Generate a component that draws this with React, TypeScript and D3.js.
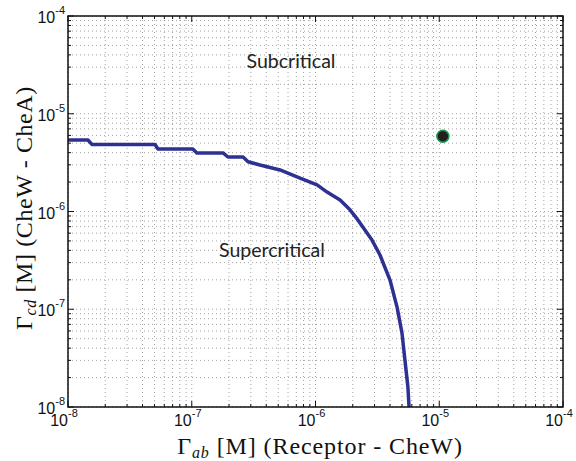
import React, { useEffect, useRef } from "react";
import * as d3 from "d3";

// Phase boundary (Gamma_ab, Gamma_cd)
const gammaAb = [
  1e-8, 1.45e-8, 1.56e-8, 5.05e-8, 5.33e-8, 1.02e-7, 1.1e-7, 1.79e-7, 1.96e-7,
  2.6e-7, 2.85e-7, 3.56e-7, 5.17e-7, 7.5e-7, 1.03e-6, 1.24e-6, 1.58e-6, 1.9e-6,
  2.2e-6, 2.86e-6, 3.32e-6, 4.0e-6, 4.56e-6, 5.0e-6, 5.28e-6, 5.58e-6, 5.7e-6,
];
const gammaCd = [
  5.39e-6, 5.39e-6, 4.85e-6, 4.85e-6, 4.36e-6, 4.36e-6, 3.97e-6, 3.97e-6, 3.61e-6,
  3.61e-6, 3.23e-6, 2.99e-6, 2.66e-6, 2.2e-6, 1.87e-6, 1.58e-6, 1.31e-6, 1.04e-6,
  8.2e-7, 5.1e-7, 3.59e-7, 1.99e-7, 1.05e-7, 5.7e-8, 3.03e-8, 1.6e-8, 1e-8,
];

// Operating point
const pointX = [1.07e-5];
const pointY = [5.9e-6];

const decadeExps = [-8, -7, -6, -5, -4];
const regionLabels = ["Subcritical", "Supercritical"];
const regionX = [6.34e-7, 4.45e-7];
const regionY = [2.94e-5, 3.42e-7];

export default function App() {
  const ref = useRef<SVGSVGElement>(null);

  useEffect(() => {
    const width = 576,
      height = 461;
    const left = 68,
      right = 563,
      top = 16,
      bottom = 407;

    const svg = d3.select(ref.current);
    svg.selectAll("*").remove();

    const x = d3.scaleLog().domain([1e-8, 1e-4]).range([left, right]);
    const y = d3.scaleLog().domain([1e-8, 1e-4]).range([bottom, top]);

    // all tick values, majors and minors
    const minor: number[] = [];
    for (let e = -8; e < -4; e++) {
      for (let m = 2; m <= 9; m++) minor.push(m * Math.pow(10, e));
    }
    const major = decadeExps.map((e) => Math.pow(10, e));
    const gridVals = major.concat(minor);

    svg.append("rect").attr("width", width).attr("height", height).attr("fill", "white");

    // Dotted grid
    const grid = svg.append("g").attr("stroke", "#666").attr("stroke-width", 0.6).attr("stroke-dasharray", "1,3");
    grid
      .selectAll("line.gx")
      .data(gridVals)
      .join("line")
      .attr("class", "gx")
      .attr("x1", (d) => x(d))
      .attr("x2", (d) => x(d))
      .attr("y1", top)
      .attr("y2", bottom);
    grid
      .selectAll("line.gy")
      .data(gridVals)
      .join("line")
      .attr("class", "gy")
      .attr("y1", (d) => y(d))
      .attr("y2", (d) => y(d))
      .attr("x1", left)
      .attr("x2", right);

    // Region labels
    svg
      .append("g")
      .selectAll("text")
      .data(regionLabels)
      .join("text")
      .attr("x", (d, i) => x(regionX[i]))
      .attr("y", (d, i) => y(regionY[i]))
      .attr("text-anchor", "middle")
      .attr("font-family", "Lato, 'Noto Sans', sans-serif")
      .attr("font-size", 19.5)
      .attr("fill", "#222")
      .text((d) => d);

    // Boundary curve
    const line = d3
      .line<number>()
      .x((d, i) => x(gammaAb[i]))
      .y((d) => y(d));
    svg
      .append("path")
      .attr("d", line(gammaCd))
      .attr("fill", "none")
      .attr("stroke", "#2d3192")
      .attr("stroke-width", 3.5)
      .attr("stroke-linejoin", "round");

    // Operating point
    svg
      .append("g")
      .selectAll("circle")
      .data(pointX)
      .join("circle")
      .attr("cx", (d) => x(d))
      .attr("cy", (d, i) => y(pointY[i]))
      .attr("r", 6)
      .attr("fill", "#231f20")
      .attr("stroke", "#1a9a4a")
      .attr("stroke-width", 1.5);

    // Frame and inward ticks
    const axes = svg.append("g").attr("stroke", "#111").attr("stroke-width", 1);
    const tickLen = (d: number) => (major.includes(d) ? 6 : 3);
    gridVals.forEach((d) => {
      const px = x(d),
        py = y(d),
        l = tickLen(d);
      axes.append("line").attr("x1", px).attr("x2", px).attr("y1", bottom).attr("y2", bottom - l);
      axes.append("line").attr("x1", px).attr("x2", px).attr("y1", top).attr("y2", top + l);
      axes.append("line").attr("y1", py).attr("y2", py).attr("x1", left).attr("x2", left + l);
      axes.append("line").attr("y1", py).attr("y2", py).attr("x1", right).attr("x2", right - l);
    });
    axes
      .append("rect")
      .attr("x", left)
      .attr("y", top)
      .attr("width", right - left)
      .attr("height", bottom - top)
      .attr("fill", "none")
      .attr("stroke-width", 1.5);

    // Tick labels 10^n
    const tickFont = "'Liberation Sans', Arial, sans-serif";
    decadeExps.forEach((e) => {
      const v = Math.pow(10, e);
      const tx = svg
        .append("text")
        .attr("x", x(v) - 4)
        .attr("y", bottom + 19)
        .attr("text-anchor", "middle")
        .attr("font-family", tickFont)
        .attr("font-size", 16)
        .attr("fill", "#111");
      tx.append("tspan").text("10");
      tx.append("tspan").attr("font-size", 11).attr("dy", -9).text(String(e));

      const ty = svg
        .append("text")
        .attr("x", left - 3)
        .attr("y", y(v) + 7)
        .attr("text-anchor", "end")
        .attr("font-family", tickFont)
        .attr("font-size", 16)
        .attr("fill", "#111");
      ty.append("tspan").text("10");
      ty.append("tspan").attr("font-size", 11).attr("dy", -9).text(String(e));
    });

    // Axis titles
    const serif = "'Liberation Serif', 'DejaVu Serif', serif";
    const xt = svg
      .append("text")
      .attr("x", 320)
      .attr("y", 454)
      .attr("text-anchor", "middle")
      .attr("font-family", serif)
      .attr("font-size", 24)
      .attr("letter-spacing", 0.9)
      .attr("fill", "#111");
    xt.append("tspan").text("Γ");
    xt.append("tspan").attr("font-style", "italic").attr("font-size", 16).attr("dy", 4).text("ab");
    xt.append("tspan").attr("dy", -4).text(" [M] (Receptor - CheW)");

    const yt = svg
      .append("text")
      .attr("transform", `translate(32, 208) rotate(-90)`)
      .attr("text-anchor", "middle")
      .attr("font-family", serif)
      .attr("font-size", 24)
      .attr("letter-spacing", 0.6)
      .attr("fill", "#111");
    yt.append("tspan").text("Γ");
    yt.append("tspan").attr("font-style", "italic").attr("font-size", 16).attr("dy", 4).text("cd");
    yt.append("tspan").attr("dy", -4).text(" [M] (CheW - CheA)");
  }, []);

  return (
    <svg
      ref={ref}
      width={576}
      height={461}
      style={{ position: "absolute", left: 0, top: 0, display: "block" }}
    />
  );
}
